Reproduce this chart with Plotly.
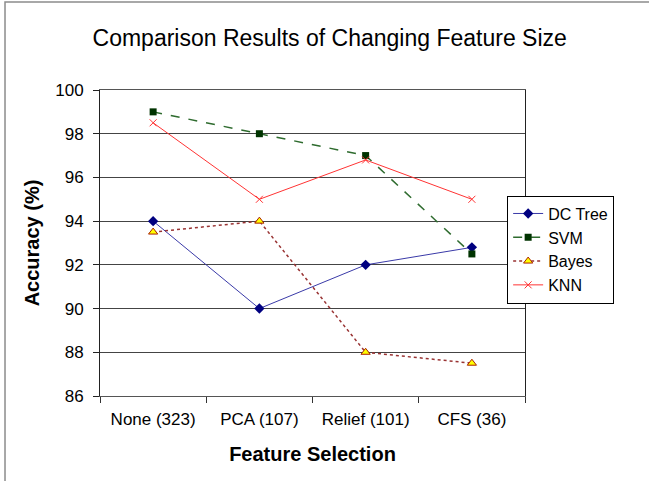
import plotly.graph_objects as go

# Feature-selection methods (number of retained features in brackets)
categories = ["None (323)", "PCA (107)", "Relief (101)", "CFS (36)"]

# Classification accuracy (%) for each classifier
dc_tree = [94.0, 90.0, 92.0, 92.8]
svm = [99.0, 98.0, 97.0, 92.5]
bayes = [93.5, 94.0, 88.0, 87.5]
knn = [98.5, 95.0, 96.8, 95.0]

y_ticks = [86, 88, 90, 92, 94, 96, 98, 100]

FONT = "Liberation Sans, Arial, sans-serif"

fig = go.Figure()

fig.add_trace(go.Scatter(
    x=categories, y=dc_tree, name="DC Tree", mode="lines+markers",
    line=dict(color="#3a3aa8", width=1),
    marker=dict(symbol="diamond", size=8, color="#000080"),
))
fig.add_trace(go.Scatter(
    x=categories, y=svm, name="SVM", mode="lines+markers",
    line=dict(color="#2e6b2e", width=1.5, dash="dash"),
    marker=dict(symbol="square", size=7, color="#003300"),
))
fig.add_trace(go.Scatter(
    x=categories, y=bayes, name="Bayes", mode="lines+markers",
    line=dict(color="#993333", width=1.5, dash="dot"),
    marker=dict(symbol="triangle-up", size=8, color="#ffff00",
                line=dict(color="#aa2200", width=1)),
))
fig.add_trace(go.Scatter(
    x=categories, y=knn, name="KNN", mode="lines+markers",
    line=dict(color="#ff3333", width=1),
    marker=dict(symbol="x-thin-open", size=7, color="#ff3333",
                line=dict(color="#ff3333", width=1)),
))

fig.update_layout(
    width=649, height=481, autosize=False,
    margin=dict(l=100, r=124, t=90, b=85),
    paper_bgcolor="white", plot_bgcolor="white",
    font=dict(family=FONT, color="black", size=17),
    title=dict(
        text="Comparison Results of Changing Feature Size",
        x=0.508, xanchor="center", y=0.921, yanchor="middle",
        font=dict(family=FONT, size=23, color="black"),
    ),
    showlegend=True,
    legend=dict(
        x=0.958, xanchor="left", y=0.655, yanchor="top",
        bordercolor="black", borderwidth=1, bgcolor="white",
        font=dict(family=FONT, size=16, color="black"),
        tracegroupgap=0,
    ),
    shapes=[
        # outer chart frame (left and top edges visible)
        dict(type="rect", xref="paper", yref="paper",
             x0=-0.2235, x1=1.4, y0=-0.4, y1=1.2876,
             line=dict(color="#8c8c8c", width=1.5), layer="below"),
    ],
)

fig.update_xaxes(
    type="category",
    range=[-0.5, len(categories) - 0.5],
    showgrid=False,
    showline=True, linecolor="#555555", linewidth=1, mirror=True,
    ticks="outside", tickson="boundaries", ticklen=6, tickcolor="#333333",
    ticklabelstandoff=8,
    tickfont=dict(family=FONT, size=17, color="black"),
    title=dict(text="<b>Feature Selection</b>", standoff=18,
               font=dict(family=FONT, size=20, color="black")),
)

fig.update_yaxes(
    range=[86, 100],
    tickvals=y_ticks,
    showgrid=True, gridcolor="#444444", gridwidth=1,
    showline=True, linecolor="#222222", linewidth=1, mirror=True,
    ticks="outside", ticklen=6, tickcolor="#222222",
    ticklabelstandoff=6,
    tickfont=dict(family=FONT, size=17, color="black"),
    zeroline=False,
    title=dict(text="<b>Accuracy (%)</b>", standoff=10,
               font=dict(family=FONT, size=20, color="black")),
)

fig.write_html("out.html")
